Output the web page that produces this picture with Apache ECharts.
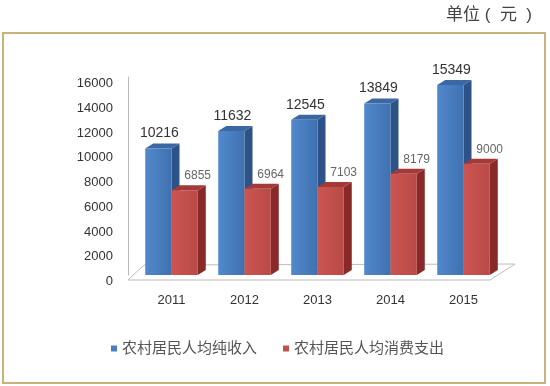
<!DOCTYPE html>
<html>
<head>
<meta charset="utf-8">
<script src="https://cdn.jsdelivr.net/npm/echarts@6/dist/echarts.min.js"></script>
<style>
  html, body { margin: 0; padding: 0; background: #fff; }
  #chart { width: 550px; height: 386px; }
</style>
</head>
<body>
<div id="chart"></div>
<script>
const years = ["2011", "2012", "2013", "2014", "2015"];
const incomeData = [10216, 11632, 12545, 13849, 15349];
const spendData = [6855, 6964, 7103, 8179, 9000];
const seriesNames = ["农村居民人均纯收入", "农村居民人均消费支出"];

const FONT = "'Liberation Sans', 'Noto Sans CJK SC', sans-serif";
// depth of the fake 3d box
const DX = 8;
const DY = -5;

// side: 0 = left bar of the pair, 1 = right bar
function bar3d(side, colors, labelStyle) {
  return function (params, api) {
    const idx = api.value(0);
    const val = api.value(1);
    const top = api.coord([idx, val]);
    const base = api.coord([idx, 0]);
    const band = api.size([1, 0])[0];
    const w = band * 0.36;
    const x0 = side === 0 ? top[0] - w : top[0];
    const x1 = x0 + w;
    const y0 = top[1];
    const y1 = base[1];
    return {
      type: "group",
      children: [
        {
          type: "polygon",
          shape: { points: [[x1, y0], [x1 + DX, y0 + DY], [x1 + DX, y1 + DY], [x1, y1]] },
          style: { fill: colors.side },
        },
        {
          type: "polygon",
          shape: { points: [[x0, y0], [x0 + DX, y0 + DY], [x1 + DX, y0 + DY], [x1, y0]] },
          style: { fill: colors.top },
        },
        {
          type: "rect",
          shape: { x: x0, y: y0, width: w, height: y1 - y0 },
          style: {
            fill: new echarts.graphic.LinearGradient(0, 0, 1, 0, [
              { offset: 0, color: colors.front[0] },
              { offset: 1, color: colors.front[1] },
            ]),
          },
        },
        {
          type: "text",
          z2: 10,
          style: {
            text: String(val),
            x: (x0 + x1 + DX) / 2 + labelStyle.dx,
            y: y0 + DY - 3,
            align: "center",
            verticalAlign: "bottom",
            fill: labelStyle.color,
            font: labelStyle.size + "px " + FONT,
          },
        },
      ],
    };
  };
}

const chart = echarts.init(document.getElementById("chart"));
const option = {
  animation: false,
  title: {
    text: "单位 (  元  )",
    right: 13,
    top: 2,
    textStyle: { color: "#444", fontSize: 17, fontWeight: "normal", fontFamily: FONT },
  },
  grid: { left: 135, right: 50, top: 77, bottom: 111 },
  xAxis: {
    type: "category",
    data: years,
    axisLine: { show: false },
    axisTick: { show: false },
    axisLabel: { color: "#333", fontSize: 13, margin: 19, fontFamily: FONT },
  },
  yAxis: {
    type: "value",
    min: 0,
    max: 16000,
    interval: 2000,
    offset: 7,
    axisLine: { show: true, lineStyle: { color: "#bbb" } },
    axisTick: { show: false },
    splitLine: { show: false },
    axisLabel: {
      color: "#333",
      fontSize: 13,
      margin: 15,
      verticalAlign: "top",
      fontFamily: FONT,
      formatter: (v) => String(v),
    },
  },
  legend: {
    top: 336,
    left: 106,
    icon: "rect",
    itemWidth: 6,
    itemHeight: 6,
    itemGap: 26,
    textStyle: { color: "#555", fontSize: 15, fontFamily: FONT },
    data: seriesNames,
  },
  series: [
    {
      name: seriesNames[0],
      type: "custom",
      itemStyle: { color: "#4a7ebf" },
      renderItem: bar3d(0, { front: ["#5189cc", "#3f71b0"], side: "#2d5287", top: "#3b67a3" }, { color: "#333", size: 14, dx: -3 }),
      data: incomeData.map((v, i) => [i, v]),
    },
    {
      name: seriesNames[1],
      type: "custom",
      itemStyle: { color: "#c0504d" },
      renderItem: bar3d(1, { front: ["#cc5552", "#b94a47"], side: "#8a2a28", top: "#a33a37" }, { color: "#666", size: 12, dx: 9 }),
      data: spendData.map((v, i) => [i, v]),
    },
  ],
};
chart.setOption(option);

// floor and frame, placed from the axis scale
const p0 = chart.convertToPixel({ gridIndex: 0 }, [0, 0]);
const pLast = chart.convertToPixel({ gridIndex: 0 }, [years.length - 1, 0]);
const band = (pLast[0] - p0[0]) / (years.length - 1);
const yFloor = p0[1] + 5;
chart.setOption({
  graphic: [
    {
      type: "rect",
      shape: { x: 3, y: 33, width: 542, height: 350 },
      style: { fill: null, stroke: "#c9b27c", lineWidth: 2 },
      silent: true,
    },
    {
      type: "polygon",
      z: -1,
      shape: {
        points: [
          [128, yFloor],
          [pLast[0] + band / 2 - 10, yFloor],
          [pLast[0] + band / 2 + 15, yFloor - 16],
          [144, yFloor - 15],
        ],
      },
      style: { fill: "#fff", stroke: "#bbb", lineWidth: 1 },
      silent: true,
    },
  ],
});
</script>
</body>
</html>
